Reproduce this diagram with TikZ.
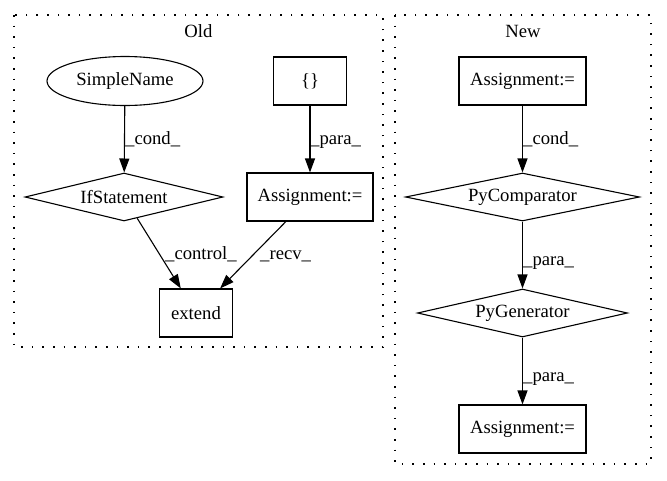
\documentclass[tikz,border=0pt]{standalone}
\usepackage{fontspec}
\setmainfont{Liberation Serif}
\usetikzlibrary{shapes.geometric,arrows.meta}
\begin{document}
\begin{tikzpicture}[x=1pt,y=-1pt,
  every node/.style={font=\fontsize{18.67pt}{22pt}\selectfont, inner sep=0pt},
  box/.style={draw, line width=1.1pt, rectangle, minimum height=48pt},
  dia/.style={draw, line width=1.1pt, diamond, shape aspect=4, minimum height=48pt},
  ell/.style={draw, line width=1.1pt, ellipse, minimum width=156pt, minimum height=49pt},
  cluster/.style={line width=1.3pt, dash pattern=on 1.6pt off 9pt},
  edge/.style={line width=1.1pt, -{Triangle[length=14pt,width=10pt]}},
  elab/.style={anchor=base west}]
\useasboundingbox (0,0) rectangle (667,480);
% clusters
\draw[cluster] (14,15) rectangle (383,347);
\draw[cluster] (395,15) rectangle (651,464);
\node (oldlab) at (198.5,31) {Old};
\node (newlab) at (523,31) {New};
% Old nodes
\node[ell] (sn) at (125,81) {SimpleName};
\node[box, minimum width=73pt] (br) at (310,81) {\{\}};
\node[dia, minimum width=198pt] (ifs) at (124,197) {IfStatement};
\node[box, minimum width=126pt] (asg) at (310,197) {Assignment:=};
\node[box, minimum width=73pt] (ext) at (196,313) {extend};
% New nodes
\node[box, minimum width=127pt] (na1) at (522.5,81) {Assignment:=};
\node[dia, minimum width=234pt] (pc) at (522.5,197) {PyComparator};
\node[dia, minimum width=210pt] (pg) at (522.5,313) {PyGenerator};
\node[box, minimum width=127pt] (na2) at (522.5,429) {Assignment:=};
% edges
\draw[edge] (sn) -- (ifs);
\draw[edge] (br) -- (asg);
\draw[edge] (ifs) -- (ext);
\draw[edge] (asg) -- (ext);
\draw[edge] (na1) -- (pc);
\draw[edge] (pc) -- (pg);
\draw[edge] (pg) -- (na2);
% edge labels
\node[elab] (l1) at (125,144) {\_cond\_};
\node[elab] (l2) at (310,144) {\_para\_};
\node[elab] (l3) at (165,259) {\_control\_};
\node[elab] (l4) at (260,259) {\_recv\_};
\node[elab] (l5) at (523,144) {\_cond\_};
\node[elab] (l6) at (523,265) {\_para\_};
\node[elab] (l7) at (523,381) {\_para\_};
\end{tikzpicture}
\end{document}
